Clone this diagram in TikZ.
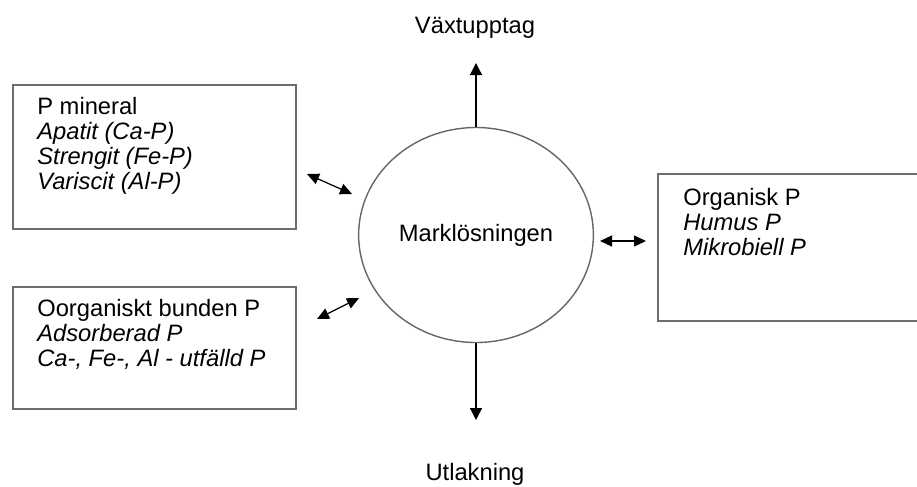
\documentclass[tikz,border=0pt]{standalone}
\usepackage{fontspec}
\setmainfont{Liberation Sans}
\usepackage{tikz}
\usetikzlibrary{shapes,arrows,positioning,calc,arrows.meta}

\begin{document}
\begin{tikzpicture}[
    pbox/.style={draw=gray!85!black, line width=1pt, anchor=north west, inner sep=0pt},
    ptext/.style={anchor=north west, align=left, inner sep=0pt, font=\fontsize{13.5}{14.2}\selectfont},
    flow/.style={black, line width=0.7pt, -{Triangle[length=2.4mm,width=2.4mm]}},
    flowtwo/.style={black, line width=0.7pt, {Triangle[length=2.4mm,width=2.2mm]}-{Triangle[length=2.4mm,width=2.2mm]}}
]
    \clip (0,0) rectangle (18.34,-9.72);

    % Marklösningen
    \node[draw=gray!80!black, line width=0.8pt, ellipse, minimum width=4.52cm, minimum height=4.30cm,
          font=\fontsize{13.5}{14.2}\selectfont] (losning) at (9.52,-4.70) {Marklösningen};

    % Växtupptag
    \node[anchor=base, font=\fontsize{13.5}{14.2}\selectfont] (vaxt) at (9.50,-0.66) {Växtupptag};
    \coordinate (upp) at (9.52,-1.26);
    \draw[flow] (losning.north) -- (upp);

    % Utlakning
    \node[anchor=base, font=\fontsize{13.5}{14.2}\selectfont] (utlak) at (9.50,-9.60) {Utlakning};
    \coordinate (ned) at (9.52,-8.40);
    \draw[flow] (losning.south) -- (ned);

    % P mineral
    \node[pbox, minimum width=5.66cm, minimum height=2.88cm] (mineral) at (0.24,-1.68) {};
    \node[ptext] (mineraltext) at ([xshift=0.5cm, yshift=-0.26cm]mineral.north west)
        {P mineral\\ \textit{Apatit (Ca-P)}\\ \textit{Strengit (Fe-P)}\\ \textit{Variscit (Al-P)}};
    \coordinate (m1) at (6.14,-3.48);
    \coordinate (m2) at (7.04,-3.88);
    \draw[flowtwo] (m1) -- (m2);

    % Oorganiskt bunden P
    \node[pbox, minimum width=5.66cm, minimum height=2.44cm] (bunden) at (0.24,-5.72) {};
    \node[ptext] (bundentext) at ([xshift=0.5cm, yshift=-0.26cm]bunden.north west)
        {Oorganiskt bunden P\\ \textit{Adsorberad P}\\ \textit{Ca-, Fe-, Al - utfälld P}};
    \coordinate (b1) at (6.34,-6.38);
    \coordinate (b2) at (7.18,-5.96);
    \draw[flowtwo] (b1) -- (b2);

    % Organisk P
    \node[pbox, minimum width=5.60cm, minimum height=2.94cm] (organisk) at (13.14,-3.46) {};
    \node[ptext] (organisktext) at ([xshift=0.52cm, yshift=-0.30cm]organisk.north west)
        {Organisk P\\ \textit{Humus P}\\ \textit{Mikrobiell P}};
    \coordinate (o1) at (12.00,-4.82);
    \coordinate (o2) at (12.92,-4.82);
    \draw[flowtwo] (o1) -- (o2);
\end{tikzpicture}
\end{document}
